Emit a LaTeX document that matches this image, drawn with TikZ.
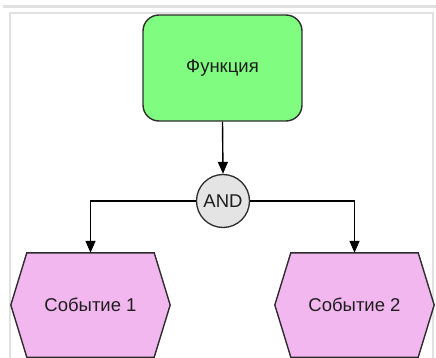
\documentclass[tikz,border=0pt]{standalone}
\usepackage{fontspec}
\setmainfont{Liberation Sans}
\usetikzlibrary{arrows.meta}
\definecolor{funcgreen}{RGB}{128,252,128}
\definecolor{eventpink}{RGB}{243,183,239}
\definecolor{gategray}{RGB}{228,228,228}
\definecolor{edgedark}{RGB}{45,45,45}
\definecolor{textdark}{RGB}{30,30,30}
\definecolor{framelight}{RGB}{225,225,225}
\begin{document}
\begin{tikzpicture}[x=1pt,y=-1pt,
  lbl/.style={font=\fontsize{18.5}{21}\selectfont, text=textdark},
  funcbox/.style={lbl, draw=edgedark, line width=1.4pt, fill=funcgreen,
    rounded corners=16pt, minimum width=159pt, minimum height=106pt, inner sep=0pt},
  gate/.style={lbl, circle, draw=edgedark, line width=1.3pt, fill=gategray,
    minimum size=53pt, inner sep=0pt},
  eventslot/.style={lbl, minimum width=159pt, minimum height=104pt, inner sep=0pt},
  hexline/.style={draw=edgedark, line width=1.4pt, fill=eventpink, line join=miter},
  arr/.style={draw=black, line width=1.4pt, -{Triangle[length=12pt,width=10pt]}},
  framerule/.style={draw=framelight, line width=2pt}
]
\useasboundingbox (0,0) rectangle (436,358);

% page frame
\draw[framerule, line width=3pt] (3,6.5) -- (436,6.5);
\draw[framerule] (9.5,358) -- (9.5,13.5) -- (433,13.5) -- (433,358);

% function
\node[funcbox] (f) at (222.5,68) {Функция};

% AND connector
\node[gate] (g) at (223,201) {AND};

% event slots (text holders) and their hexagon outlines
\node[eventslot] (e1) at (90.5,305) {};
\node[eventslot] (e2) at (354.5,305) {};
\foreach \e in {e1,e2}{
  \path[hexline] (\e.west) -- ([xshift=16pt]\e.north west) -- ([xshift=-16pt]\e.north east)
    -- (\e.east) -- ([xshift=-16pt]\e.south east) -- ([xshift=16pt]\e.south west) -- cycle;
}
\node[lbl] at (e1) {Событие 1};
\node[lbl] at (e2) {Событие 2};

% connectors
\draw[arr] (f.south) -- (g.north);
\draw[arr] (g.west) -| (e1.north);
\draw[arr] (g.east) -| (e2.north);
\end{tikzpicture}
\end{document}
